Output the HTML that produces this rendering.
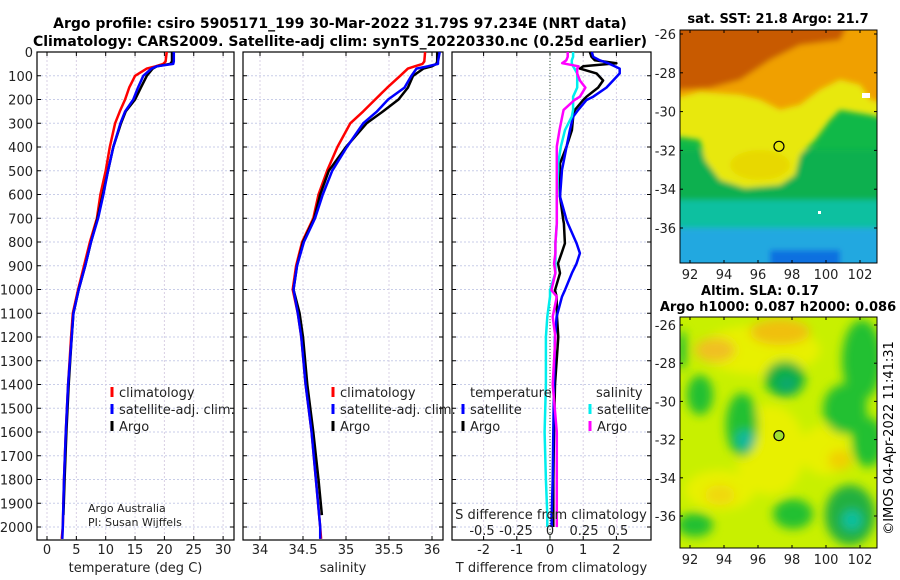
<!DOCTYPE html>
<html><head><meta charset="utf-8">
<style>
html,body{margin:0;padding:0;background:#fff;}
svg{display:block;font-family:"DejaVu Sans","Liberation Sans",sans-serif;}
</style></head>
<body>
<svg id="chart" width="900" height="580" viewBox="0 0 900 580" xmlns="http://www.w3.org/2000/svg">
<defs>
<filter id="bl" x="-20%" y="-20%" width="140%" height="140%"><feGaussianBlur stdDeviation="3"/></filter>
<filter id="bl2" x="-20%" y="-20%" width="140%" height="140%"><feGaussianBlur stdDeviation="5"/></filter>
<clipPath id="c1"><rect x="680" y="30" width="197" height="233"/></clipPath>
<clipPath id="c2"><rect x="680" y="317" width="197" height="231"/></clipPath>
</defs>
<text x="340" y="28" font-size="14" font-weight="bold" text-anchor="middle">Argo profile: csiro 5905171_199 30-Mar-2022 31.79S 97.234E (NRT data)</text>
<text x="340" y="46" font-size="14" font-weight="bold" text-anchor="middle">Climatology: CARS2009. Satellite-adj clim: synTS_20220330.nc (0.25d earlier)</text>

<g id="p1"></g>
<g id="p2"></g>
<g id="p3"></g>

<!-- SST map -->
<g>
<text x="778" y="23" font-size="13" font-weight="bold" text-anchor="middle">sat. SST: 21.8 Argo: 21.7</text>
<g clip-path="url(#c1)">
<rect x="680" y="30" width="197" height="233" fill="#10b848"/>
<g filter="url(#bl)">
<rect x="660" y="150" width="240" height="60" fill="#10b050"/>
<rect x="660" y="200" width="240" height="80" fill="#10c0a0"/>
<rect x="660" y="228" width="240" height="50" fill="#20a8e0"/>
<rect x="770" y="250" width="70" height="20" fill="#1070e0"/>
<path d="M670 20 L890 20 L890 120 L870 115 L840 110 L830 120 L815 140 L800 155 L795 175 L780 185 L745 188 L720 180 L705 160 L700 140 L680 137 L670 137 Z" fill="#e8e810"/>
<path d="M670 20 L890 20 L890 105 L870 100 L860 85 L840 80 L820 90 L800 105 L780 110 L760 100 L740 95 L700 92 L670 100 Z" fill="#f0a000"/>
<path d="M670 20 L850 20 L840 40 L800 45 L770 60 L740 80 L710 88 L670 90 Z" fill="#c85a00"/>
<ellipse cx="760" cy="165" rx="30" ry="15" fill="#e8d800"/>
</g>
<rect x="862" y="93" width="8" height="5" fill="#fff"/>
<rect x="818" y="211" width="3" height="3" fill="#fff"/>
</g>
<rect x="680" y="30" width="197" height="233" fill="none" stroke="#000" stroke-width="1"/>
<circle id="m1" r="5" fill="none" stroke="#000" stroke-width="1.2"/>
<g id="ax1"></g>
</g>

<!-- SLA map -->
<g>
<text x="760" y="295" font-size="13" font-weight="bold" text-anchor="middle">Altim. SLA: 0.17</text>
<text x="778" y="311" font-size="13" font-weight="bold" text-anchor="middle">Argo h1000: 0.087 h2000: 0.086</text>
<g clip-path="url(#c2)">
<rect x="680" y="317" width="197" height="231" fill="#c8f000"/>
<g filter="url(#bl2)">
<ellipse cx="760" cy="350" rx="60" ry="25" fill="#e8f000"/>
<ellipse cx="770" cy="450" rx="35" ry="45" fill="#e8f000"/>
<ellipse cx="720" cy="490" rx="35" ry="20" fill="#e8f000"/>
<ellipse cx="825" cy="450" rx="25" ry="25" fill="#e8f000"/>
<ellipse cx="780" cy="332" rx="30" ry="13" fill="#f0c010"/>
<ellipse cx="715" cy="350" rx="20" ry="12" fill="#f0c020"/>
<ellipse cx="840" cy="460" rx="12" ry="10" fill="#f0d000"/>
<ellipse cx="720" cy="495" rx="15" ry="10" fill="#f0d810"/>
<ellipse cx="785" cy="379" rx="20" ry="18" fill="#10b040"/>
<ellipse cx="742" cy="425" rx="16" ry="32" fill="#20c030"/>
<ellipse cx="700" cy="395" rx="13" ry="20" fill="#20c030"/>
<ellipse cx="845" cy="409" rx="22" ry="25" fill="#20c030"/>
<ellipse cx="868" cy="442" rx="16" ry="25" fill="#20c030"/>
<ellipse cx="793" cy="514" rx="20" ry="15" fill="#20c030"/>
<ellipse cx="850" cy="515" rx="25" ry="30" fill="#20b040"/>
<ellipse cx="695" cy="525" rx="18" ry="12" fill="#20c030"/>
<ellipse cx="862" cy="360" rx="20" ry="40" fill="#20c030"/>
<ellipse cx="682" cy="350" rx="5" ry="20" fill="#20c030"/>
<ellipse cx="745" cy="440" rx="9" ry="10" fill="#10b8a0"/>
<ellipse cx="852" cy="520" rx="10" ry="10" fill="#10c0a0"/>
<ellipse cx="787" cy="384" rx="9" ry="8" fill="#10a870"/>
</g>
</g>
<rect x="680" y="317" width="197" height="231" fill="none" stroke="#000" stroke-width="1"/>
<circle id="m2" r="5" fill="#a0e030" stroke="#000" stroke-width="1.2"/>
<g id="ax2"></g>
</g>
<text transform="translate(893,438) rotate(-90)" font-size="13" text-anchor="middle">©IMOS 04-Apr-2022 11:41:31</text>
</svg>
<script>
// ---------- data ----------
const depthT = [0,40,50,60,70,100,150,200,250,300,400,500,600,700,800,900,1000,1100,1200,1400,1600,1800,2000,2050];
const climTemp = [20.4,20.2,19.8,18.5,17.0,15.0,14.0,13.3,12.4,11.6,10.7,10.0,9.1,8.5,7.3,6.3,5.3,4.4,4.1,3.6,3.2,2.9,2.7,2.5];
const satTemp  = [21.6,21.6,21.5,18.7,17.8,16.4,15.5,14.7,13.3,12.5,11.3,10.4,9.6,8.7,7.5,6.5,5.4,4.5,4.2,3.6,3.2,2.9,2.7,2.6];
const depthA = [0,40,50,60,70,100,150,200,250,300,400,500,600,700,800,900,1000,1100,1200,1400,1600,1800,1950];
const argoTemp = [21.3,21.3,21.0,18.7,18.0,17.0,16.0,15.0,13.4,12.6,11.3,10.4,9.5,8.6,7.5,6.5,5.4,4.5,4.2,3.7,3.3,3.0,2.8];
const climSal = [35.92,35.91,35.89,35.80,35.72,35.63,35.48,35.34,35.20,35.05,34.90,34.78,34.68,34.62,34.49,34.42,34.38,34.44,34.48,34.53,34.60,34.65,34.70,34.71];
const satSal  = [36.09,36.07,36.07,35.95,35.82,35.76,35.68,35.49,35.36,35.20,35.01,34.84,34.73,34.64,34.51,34.43,34.39,34.44,34.48,34.53,34.60,34.65,34.70,34.70];
const argoSal = [36.06,36.06,36.05,36.0,35.9,35.78,35.72,35.61,35.43,35.24,35.0,34.8,34.70,34.63,34.50,34.43,34.39,34.46,34.50,34.55,34.62,34.68,34.72];
const depthD = [0,20,35,47,60,70,90,120,150,188,202,244,272,329,398,469,496,609,708,722,806,847,890,931,1003,1030,1115,1200,1400,1600,1800,1950,2000];
const satTdiff  = [1.26,1.3,1.5,1.75,1.95,2.1,2.1,1.9,1.7,1.3,1.1,0.85,0.7,0.6,0.5,0.4,0.36,0.3,0.5,0.54,0.8,0.9,0.8,0.66,0.45,0.36,0.2,0.15,0.12,0.1,0.08,0.05,0.05];
const argoTdiff = [1.2,1.25,1.35,2.0,1.0,0.9,1.4,1.6,1.45,1.1,1.0,0.75,0.7,0.66,0.5,0.3,0.3,0.3,0.4,0.42,0.45,0.35,0.24,0.3,0.15,0.2,0.21,0.25,0.15,0.12,0.1,0.1,0.1];
const satSdiff  = [0.17,0.17,0.16,0.16,0.17,0.18,0.2,0.2,0.2,0.17,0.17,0.17,0.16,0.11,0.08,0.06,0.06,0.05,0.05,0.05,0.04,0.04,0.04,0.04,0.0,0.0,-0.02,-0.03,-0.03,-0.04,-0.03,-0.02,-0.02];
const argoSdiff = [0.13,0.13,0.12,0.09,0.21,0.2,0.2,0.22,0.26,0.22,0.18,0.1,0.09,0.07,0.05,0.05,0.05,0.05,0.05,0.05,0.04,0.04,0.03,0.04,0.01,0.05,0.02,0.04,0.02,0.05,0.05,0.05,0.05];
const depthTicks = [0,100,200,300,400,500,600,700,800,900,1000,1100,1200,1300,1400,1500,1600,1700,1800,1900,2000];
const tempTicks = [0,5,10,15,20,25,30];
const salTicks = [34,34.5,35,35.5,36];
const tdiffTicks = [-2,-1,0,1,2];
const sdiffTicks = [-0.5,-0.25,0,0.25,0.5];
const sdiffLabels = ['-0.5','-0.25','0','0.25','0.5'];
const lonTicks = [92,94,96,98,100,102];
const latTicks = [-26,-28,-30,-32,-34,-36];
const floatLon = 97.234, floatLat = -31.79;

// ---------- helpers ----------
const NS='http://www.w3.org/2000/svg';
function mk(tag,parent,attrs){const e=document.createElementNS(NS,tag);for(const k in attrs)e.setAttribute(k,attrs[k]);parent.appendChild(e);return e;}
const yD = d => 52 + d*0.2375;
const TOP=52, BOT=540;
const xT = v => 47 + v*5.87;
const xS = v => 260 + (v-34)*86;
const xTd = v => 550 + v*33.2;
const xSd = v => 550 + v*136;

function panel(g,x0,x1,xs,ticks,fmt,label,showY){
  depthTicks.forEach(d=>{const l=mk('line',g,{x1:x0,x2:x1,y1:yD(d),y2:yD(d),stroke:'#c8cde8','stroke-width':1,'stroke-dasharray':'2,2'});
    });
  ticks.forEach(t=>{const l=mk('line',g,{x1:xs(t),x2:xs(t),y1:TOP,y2:BOT,stroke:'#d8d0e4','stroke-width':1,'stroke-dasharray':'2,2'});
    });
  const f=mk('rect',g,{x:x0,y:TOP,width:x1-x0,height:BOT-TOP,fill:'none',stroke:'#000','stroke-width':1.2});
  
  depthTicks.forEach(d=>{mk('line',g,{x1:x0,x2:x0+4,y1:yD(d),y2:yD(d),stroke:'#000'});mk('line',g,{x1:x1-4,x2:x1,y1:yD(d),y2:yD(d),stroke:'#000'});
    if(showY){const t=mk('text',g,{x:x0-4,y:yD(d)+5,'font-size':13,'text-anchor':'end',fill:'#222'});t.textContent=d;
      }});
  ticks.forEach((v,i)=>{mk('line',g,{x1:xs(v),x2:xs(v),y1:BOT-4,y2:BOT,stroke:'#000'});mk('line',g,{x1:xs(v),x2:xs(v),y1:TOP,y2:TOP+4,stroke:'#000'});
    if(fmt){const t=mk('text',g,{x:xs(v),y:554,'font-size':13,'text-anchor':'middle',fill:'#222'});t.textContent=fmt(v,i);
      }});
  const lb=mk('text',g,{x:(x0+x1)/2,y:572,'font-size':13,'text-anchor':'middle',fill:'#222'});lb.textContent=label;
  
}
function line(g,xs,vals,deps,color,name,w){
  const pts=vals.map((v,i)=>xs(v).toFixed(1)+','+yD(deps[i]).toFixed(1)).join(' ');
  const p=mk('polyline',g,{points:pts,fill:'none',stroke:color,'stroke-width':w||2.5,'stroke-linejoin':'round'});
  
}
function legend(g,x,y,color,txt,name){
  mk('line',g,{x1:x,x2:x,y1:y-10,y2:y,stroke:color,'stroke-width':3});
  const t=mk('text',g,{x:x+7,y:y,'font-size':13,fill:'#222'});t.textContent=txt;
  
}

const p1=document.getElementById('p1');
panel(p1,37,234,xT,tempTicks,v=>v,'temperature (deg C)',true);
line(p1,xT,climTemp,depthT,'#ff0000','climatology-temp-line');
line(p1,xT,argoTemp,depthA,'#000','argo-temp-line');
line(p1,xT,satTemp,depthT,'#0000ff','satellite-temp-line');
legend(p1,112,397,'#ff0000','climatology','legend-climatology');
legend(p1,112,414,'#0000ff','satellite-adj. clim.','legend-satellite');
legend(p1,112,431,'#000','Argo','legend-argo');
let t=mk('text',p1,{x:88,y:512,'font-size':11,fill:'#222'});t.textContent='Argo Australia';

t=mk('text',p1,{x:88,y:526,'font-size':11,fill:'#222'});t.textContent='PI: Susan Wijffels';


const p2=document.getElementById('p2');
panel(p2,243,443,xS,salTicks,v=>v,'salinity',false);
line(p2,xS,climSal,depthT,'#ff0000','climatology-sal-line');
line(p2,xS,argoSal,depthA,'#000','argo-sal-line');
line(p2,xS,satSal,depthT,'#0000ff','satellite-sal-line');
legend(p2,333,397,'#ff0000','climatology','legend-climatology');
legend(p2,333,414,'#0000ff','satellite-adj. clim.','legend-satellite');
legend(p2,333,431,'#000','Argo','legend-argo');

const p3=document.getElementById('p3');
panel(p3,452,651,xTd,tdiffTicks,v=>v,'T difference from climatology',false);
mk('line',p3,{x1:550,x2:550,y1:TOP,y2:BOT,stroke:'#335533','stroke-width':1,'stroke-dasharray':'1,2'});
line(p3,xTd,argoTdiff,depthD,'#000','argo-tdiff-line');
line(p3,xTd,satTdiff,depthD,'#0000ff','satellite-tdiff-line');
line(p3,xSd,satSdiff,depthD,'#00eeee','satellite-sdiff-line');
line(p3,xSd,argoSdiff,depthD,'#ff00ff','argo-sdiff-line');
t=mk('text',p3,{x:470,y:397,'font-size':13,fill:'#222'});t.textContent='temperature';

legend(p3,463,414,'#0000ff','satellite','legend-t-satellite');
legend(p3,463,431,'#000','Argo','legend-t-argo');
t=mk('text',p3,{x:596,y:397,'font-size':13,fill:'#222'});t.textContent='salinity';

legend(p3,590,414,'#00eeee','satellite','legend-s-satellite');
legend(p3,590,431,'#ff00ff','Argo','legend-s-argo');
t=mk('text',p3,{x:551,y:519,'font-size':13,'text-anchor':'middle',fill:'#222'});t.textContent='S difference from climatology';

sdiffTicks.forEach((v,i)=>{const s=mk('text',p3,{x:xSd(v),y:535,'font-size':13,'text-anchor':'middle',fill:'#222'});s.textContent=sdiffLabels[i];
  });

function mapAxes(id,top,bot,latY){
  const g=document.getElementById(id);
  lonTicks.forEach(l=>{const x=690+(l-92)*17;
    mk('line',g,{x1:x,x2:x,y1:bot-3,y2:bot,stroke:'#000'});mk('line',g,{x1:x,x2:x,y1:top,y2:top+3,stroke:'#000'});
    const s=mk('text',g,{x:x,y:bot+16,'font-size':13,'text-anchor':'middle',fill:'#222'});s.textContent=l;
    });
  latTicks.forEach(l=>{const y=latY(l);
    mk('line',g,{x1:680,x2:683,y1:y,y2:y,stroke:'#000'});mk('line',g,{x1:874,x2:877,y1:y,y2:y,stroke:'#000'});
    const s=mk('text',g,{x:676,y:y+5,'font-size':13,'text-anchor':'end',fill:'#222'});s.textContent=l;
    });
}
const lat1 = l => 34 + (-26-l)*19.4;
const lat2 = l => 325 + (-26-l)*19.1;
mapAxes('ax1',30,263,lat1);
mapAxes('ax2',317,548,lat2);
const m1=document.getElementById('m1');m1.setAttribute('cx',690+(floatLon-92)*17);m1.setAttribute('cy',lat1(floatLat));
const m2=document.getElementById('m2');m2.setAttribute('cx',690+(floatLon-92)*17);m2.setAttribute('cy',lat2(floatLat));
</script>
</body></html>
